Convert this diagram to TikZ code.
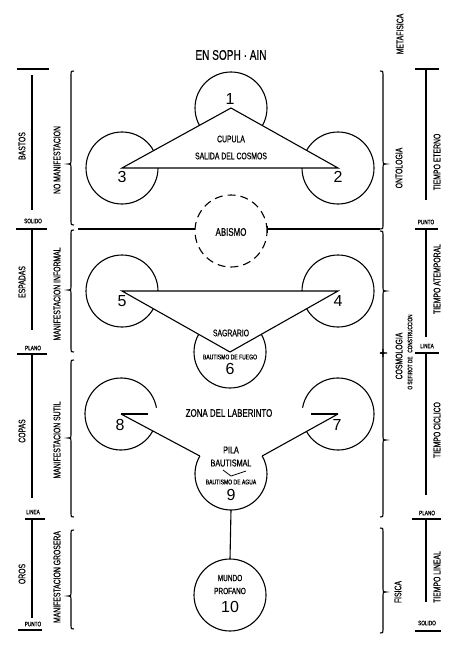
\documentclass[tikz,border=0pt]{standalone}
\usepackage{fontspec}
\setmainfont[FakeStretch=0.72, FakeBold=0.6]{Liberation Sans}
\newfontfamily\numfont{Liberation Sans}
\usetikzlibrary{arrows.meta}

% brace with its tip pointing left: x, top, tip, bottom
\newcommand{\leftbrace}[4]{%
\draw (#1+3,-#2) .. controls (#1,-#2) .. (#1,-#2-3) -- (#1,-#3+3)
  .. controls (#1,-#3) .. (#1-3,-#3) .. controls (#1,-#3) .. (#1,-#3-3)
  -- (#1,-#4+3) .. controls (#1,-#4) .. (#1+3,-#4);}
% brace with its tip pointing right
\newcommand{\rightbrace}[4]{%
\draw (#1-3,-#2) .. controls (#1,-#2) .. (#1,-#2-3) -- (#1,-#3+3)
  .. controls (#1,-#3) .. (#1+3,-#3) .. controls (#1,-#3) .. (#1,-#3-3)
  -- (#1,-#4+3) .. controls (#1,-#4) .. (#1-3,-#4);}

\tikzset{
  sefira/.style={circle, minimum size=72pt, inner sep=0pt, outer sep=0pt},
  txt/.style={font=\fontsize{9.5}{10}\selectfont, inner sep=0pt},
  tiny/.style={font=\fontsize{6.5}{7}\selectfont, inner sep=0pt},
  numeral/.style={font=\numfont\fontsize{16}{16}\selectfont, inner sep=0pt},
  vtxt/.style={txt, rotate=90},
}

\begin{document}
\begin{tikzpicture}[x=1pt, y=1pt, line width=1.1pt]
\useasboundingbox (0,0) rectangle (461,-650);

\node[font=\fontsize{14}{14}\selectfont, inner sep=0pt] (ensoph) at (231,-55) {EN SOPH · AIN};
\node[vtxt] (metafisica) at (400,-34) {METAFISICA};

% cupula
\node[sefira, draw] (s1) at (231,-108) {};
\node[sefira, draw] (s2) at (338,-168) {};
\node[sefira, draw] (s3) at (122,-168) {};
\filldraw[fill=white] (s1.center) -- (s2.center) -- (s3.center) -- cycle;
\node[numeral] (n1) at (230,-99) {1};
\node[numeral] (n2) at (338,-177) {2};
\node[numeral] (n3) at (122,-177) {3};
\node[txt] (cupula) at (231,-139) {CUPULA};
\node[txt] (salida) at (231,-156) {SALIDA DEL COSMOS};

% abismo
\node[sefira, draw, dash pattern=on 8pt off 5pt] (abismo) at (231,-231) {};
\node[txt, font=\fontsize{11}{11}\selectfont] (abismotxt) at (231,-232) {ABISMO};
\coordinate (abl) at (78,-229);
\coordinate (abr) at (380,-229);
\draw (abl) -- (abismo.west |- abl);
\draw[{Bar[width=7pt]}-] (abismo.east |- abr) -- (abr);

% sagrario
\node[sefira, draw] (s5) at (122,-291) {};
\node[sefira, draw] (s4) at (338,-291) {};
\node[sefira, draw] (s6) at (230,-352) {};
\filldraw[fill=white] (s5.center) -- (s4.center) -- (s6.center) -- cycle;
\node[numeral] (n5) at (122,-301) {5};
\node[numeral] (n4) at (338,-301) {4};
\node[numeral] (n6) at (230,-369) {6};
\node[txt] (sagrario) at (231,-333) {SAGRARIO};
\node[tiny, font=\fontsize{7}{7}\selectfont] (fuego) at (230,-357) {BAUTISMO DE FUEGO};

% laberinto
\node[sefira] (s8) at (121,-414) {};
\node[sefira] (s7) at (338,-414) {};
\node[sefira] (s9) at (231,-474) {};
\draw (s8.10) arc[start angle=10, end angle=332, radius=36];
\draw (s8.center) -- ++(27,0);
\draw (s8.center) -- (s9.150);
\draw (s7.209) arc[start angle=209, end angle=530, radius=36];
\draw (s7.center) -- ++(-27,0);
\draw (s7.center) -- (s9.30);
\draw (s9.150) arc[start angle=150, end angle=390, radius=36];
\node[numeral] (n8) at (120,-425) {8};
\node[numeral] (n7) at (337,-425) {7};
\node[numeral] (n9) at (231,-495) {9};
\node[txt, font=\fontsize{11}{11}\selectfont] (laberinto) at (229,-413) {ZONA DEL LABERINTO};
\node[txt, font=\fontsize{10}{10}\selectfont] (pila) at (231,-450) {PILA};
\node[txt, font=\fontsize{10}{10}\selectfont] (bautismal) at (231,-463) {BAUTISMAL};
\draw[line width=0.8pt] (223,-470) -- (231,-476) -- (246,-471);
\node[tiny, font=\fontsize{7}{7}\selectfont] (agua) at (231,-482) {BAUTISMO DE AGUA};

% mundo profano
\node[sefira, draw] (s10) at (230,-595) {};
\draw (s9.south) -- (s10.north);
\node[txt, font=\fontsize{9}{9}\selectfont] (mundo) at (230,-578) {MUNDO};
\node[txt, font=\fontsize{9}{9}\selectfont] (profano) at (230,-591) {PROFANO};
\node[numeral] (n10) at (230,-607) {10};

% left braces
\leftbrace{71}{71}{164}{225}
\leftbrace{71}{230}{290}{352}
\leftbrace{71}{360}{438}{517}
\leftbrace{71}{530}{596}{629}
\node[vtxt] (nomanif) at (57,-160) {NO MANIFESTACION};
\node[vtxt] (informal) at (57,-294) {MANIFESTACION INFORMAL};
\node[vtxt] (sutil) at (57,-440) {MANIFESTACION SUTIL};
\node[vtxt] (grosera) at (57,-577) {MANIFESTACION GROSERA};

% right braces
\rightbrace{383}{71}{164}{229}
\rightbrace{383}{231}{291}{353}
\rightbrace{383}{353}{440}{517}
\draw (383,-349) .. controls (383,-353) .. (387,-353) .. controls (383,-353) .. (383,-357);
\rightbrace{383}{528}{592}{633}
\node[vtxt] (ontologia) at (399,-168) {ONTOLOGIA};
\node[vtxt] (cosmologia) at (399,-356) {COSMOLOGIA};
\node[tiny, rotate=90] (sefirot) at (410,-352) {O SEFIROT DE\ \ \ CONSTRUCCION};
\node[vtxt] (fisica) at (398,-592) {FISICA};

% left scale
\draw (17,-69) -- (49,-69);
\draw (32,-75) -- (32,-210);
\node[tiny] (solidol) at (33,-221) {SOLIDO};
\draw (16,-229) -- (47,-229);
\draw (32,-229) -- (32,-330);
\node[tiny] (planol) at (33,-348) {PLANO};
\draw (17,-354) -- (47,-354);
\draw (32,-354) -- (32,-498);
\node[tiny] (lineal) at (33,-512) {LINEA};
\draw (25,-519) -- (45,-519);
\draw (32,-519) -- (32,-618);
\node[tiny] (puntol) at (33,-624) {PUNTO};
\draw (18,-630) -- (42,-630);
\node[vtxt] (bastos) at (22,-146) {BASTOS};
\node[vtxt] (espadas) at (22,-282) {ESPADAS};
\node[vtxt] (copas) at (22,-431) {COPAS};
\node[vtxt] (oros) at (22,-574) {OROS};

% right scale
\draw (415,-69) -- (439,-69);
\draw (426,-69) -- (426,-200);
\node[tiny] (puntor) at (426,-222) {PUNTO};
\draw (415,-229) -- (438,-229);
\draw (426,-229) -- (426,-337);
\node[tiny] (linear) at (427,-346) {LINEA};
\draw (415,-353) -- (439,-353);
\draw (426,-353) -- (426,-495);
\node[tiny] (planor) at (427,-513) {PLANO};
\draw (412,-519) -- (441,-519);
\draw (426,-519) -- (426,-602);
\node[tiny] (solidor) at (427,-623) {SOLIDO};
\draw (415,-631) -- (441,-631);
\node[vtxt] (eterno) at (437,-162) {TIEMPO ETERNO};
\node[vtxt] (atemporal) at (437,-279) {TIEMPO ATEMPORAL};
\node[vtxt] (ciclico) at (437,-430) {TIEMPO CICLICO};
\node[vtxt] (lineal) at (437,-577) {TIEMPO LINEAL};
\end{tikzpicture}
\end{document}
